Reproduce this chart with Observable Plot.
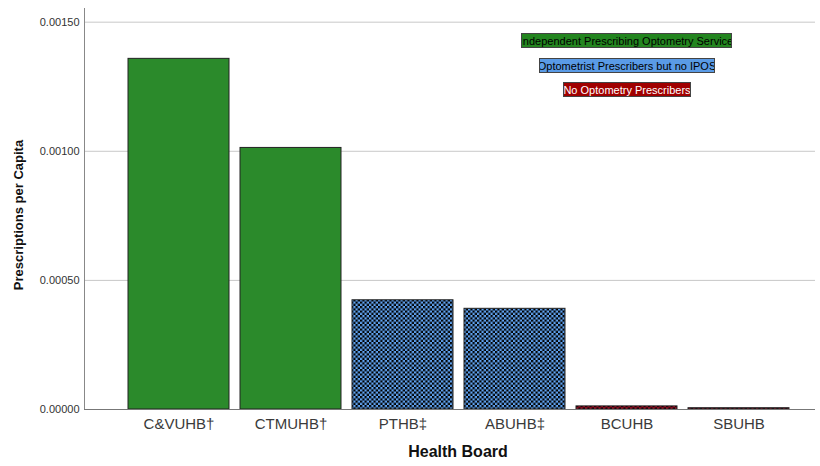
<!DOCTYPE html>
<html>
<head>
<meta charset="utf-8">
<script src="https://cdn.jsdelivr.net/npm/d3@7"></script>
<script src="https://cdn.jsdelivr.net/npm/@observablehq/plot@0.6"></script>
<style>
  html, body { margin: 0; padding: 0; background: #fff; }
  #wrap { position: relative; width: 820px; height: 466px; font-family: "Liberation Sans", Arial, sans-serif; }
  .leg { position: absolute; height: 15px; line-height: 14px; font-size: 11px; border: 1px solid #444;
         display: flex; justify-content: center; overflow: hidden; white-space: nowrap; box-sizing: border-box; }
</style>
</head>
<body>
<div id="wrap"></div>
<script>
// ---- data ----
const boards = ["C&VUHB†", "CTMUHB†", "PTHB‡", "ABUHB‡", "BCUHB", "SBUHB"];
const values = [0.001358, 0.001013, 0.000423, 0.000390, 0.000012, 0.000005];
const groups = ["Independent Prescribing Optometry Service", "Independent Prescribing Optometry Service",
                "Optometrist Prescribers but no IPOS", "Optometrist Prescribers but no IPOS",
                "No Optometry Prescribers", "No Optometry Prescribers"];
const legendLabels = ["Independent Prescribing Optometry Service", "Optometrist Prescribers but no IPOS", "No Optometry Prescribers"];
const yTicks = [0, 0.0005, 0.0010, 0.0015];
const xLabel = "Health Board";
const yLabel = "Prescriptions per Capita";

const data = boards.map((b, i) => ({board: b, value: values[i], group: groups[i]}));

// ---- styles ----
const groupFill = {
  "Independent Prescribing Optometry Service": "#2b8a2b",
  "Optometrist Prescribers but no IPOS": "url(#checkBlue)",
  "No Optometry Prescribers": "url(#checkRed)"
};
const legendStyle = [
  {bg: "#23851f", color: "#000", left: 521, top: 33, width: 211},
  {bg: "#5a9be6", color: "#000", left: 539, top: 58, width: 176},
  {bg: "#a00000", color: "#fff", left: 563, top: 82, width: 128}
];

function patterns() {
  const defs = d3.create("svg:defs");
  const mk = (id, c1, c2, n) => {
    const p = defs.append("pattern").attr("id", id).attr("width", 2 * n).attr("height", 2 * n)
      .attr("patternUnits", "userSpaceOnUse");
    p.append("rect").attr("width", 2 * n).attr("height", 2 * n).attr("fill", c1);
    p.append("rect").attr("width", n).attr("height", n).attr("fill", c2);
    p.append("rect").attr("x", n).attr("y", n).attr("width", n).attr("height", n).attr("fill", c2);
  };
  mk("checkBlue", "#62a6f5", "#000", 2.25);
  mk("checkRed", "#d0102e", "#000", 2.25);
  return defs.node();
}

const chart = Plot.plot({
  width: 820,
  height: 466,
  marginLeft: 84,
  marginRight: 5,
  marginTop: 8,
  marginBottom: 57,
  style: {fontFamily: "'Liberation Sans', Arial, sans-serif", background: "#fff"},
  x: {domain: boards, range: [116, 800], padding: 0.1},
  y: {domain: [0, 0.001553]},
  color: {type: "identity"},
  marks: [
    patterns,
    Plot.ruleY(yTicks.slice(1), {stroke: "#c8c8c8", strokeWidth: 1}),
    Plot.barY(data, {x: "board", y: "value", fill: d => groupFill[d.group], stroke: "#222", strokeWidth: 1}),
    Plot.axisY({ticks: yTicks, tickFormat: d3.format(".5f"), tickSize: 0, tickPadding: 5,
                fontSize: 11, color: "#333", label: null}),
    Plot.axisX({tickSize: 0, tickPadding: 9, fontSize: 15, color: "#3a3a3a", label: null}),
    Plot.frame({anchor: "left", stroke: "#888"}),
    Plot.ruleY([0], {stroke: "#777"}),
    Plot.text([xLabel], {frameAnchor: "bottom", dy: 47, dx: 8, lineAnchor: "bottom", textAnchor: "middle",
                         fontSize: 16, fontWeight: "bold", fill: "#111"}),
    Plot.text([yLabel], {frameAnchor: "left", dx: -66, dy: 6, rotate: -90, textAnchor: "middle",
                         fontSize: 13, fontWeight: "bold", fill: "#111"})
  ]
});

const wrap = document.getElementById("wrap");
wrap.appendChild(chart);
legendLabels.forEach((t, i) => {
  const s = legendStyle[i];
  const d = document.createElement("div");
  d.className = "leg";
  d.style.left = s.left + "px";
  d.style.top = s.top + "px";
  d.style.width = s.width + "px";
  d.style.background = s.bg;
  d.style.color = s.color;
  d.textContent = t;
  wrap.appendChild(d);
});
</script>
</body>
</html>
